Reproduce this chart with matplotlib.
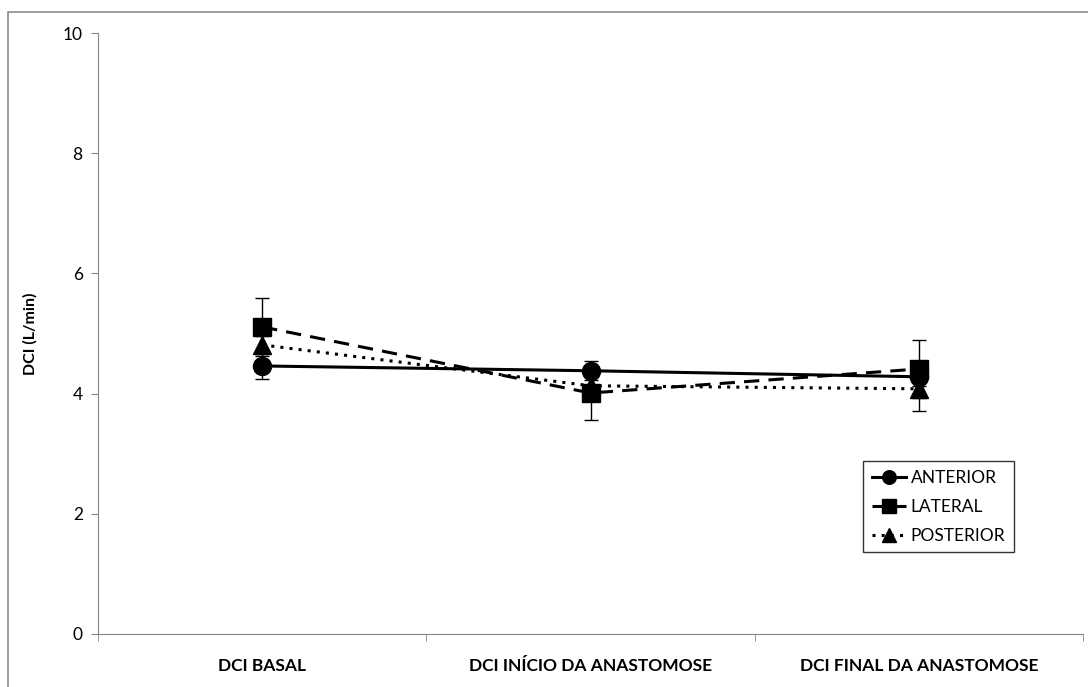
import matplotlib.pyplot as plt
from matplotlib.patches import Rectangle

plt.rcParams["font.family"] = ["Lato", "DejaVu Sans"]

# dados
categorias = ["DCI BASAL", "DCI INÍCIO DA ANASTOMOSE", "DCI FINAL DA ANASTOMOSE"]
anterior = [4.46, 4.38, 4.28]
anterior_dp = [0.22, 0.16, 0.15]
lateral = [5.11, 4.01, 4.41]
lateral_dp = [0.48, 0.45, 0.48]
posterior = [4.81, 4.13, 4.08]
posterior_dp = [0.15, 0.15, 0.37]

fig = plt.figure(figsize=(10.88, 6.87), dpi=100)
ax = fig.add_axes([98 / 1088, 1 - 634 / 687, 985 / 1088, 601 / 687])

# borda externa do gráfico (estilo Excel)
fig.patches.append(Rectangle((8 / 1088, -0.01), 1.0, 1 - 12 / 687 + 0.01,
                             transform=fig.transFigure, fill=False,
                             edgecolor="#8c8c8c", linewidth=1.2))

x = [0.5, 1.5, 2.5]
series = [
    (anterior, anterior_dp, "ANTERIOR", "o", "-", 13),
    (lateral, lateral_dp, "LATERAL", "s", (0, (5, 3)), 12.5),
    (posterior, posterior_dp, "POSTERIOR", "^", (0, (1, 2)), 13),
]
for vals, dp, nome, mk, ls, ms in series:
    ax.errorbar(x, vals, yerr=dp, fmt="none", ecolor="black", elinewidth=1,
                capsize=5, capthick=1, zorder=2)
    ax.plot(x, vals, color="black", linestyle=ls, linewidth=2.2, marker=mk,
            markersize=ms, label=nome, zorder=3)

ax.set_xlim(0, 3)
ax.set_ylim(0, 10)
ax.set_yticks([0, 2, 4, 6, 8, 10])
ax.set_xticks([0.5, 1.5, 2.5])
ax.set_xticklabels(categorias, fontsize=12.5, fontweight="bold")
ax.set_xticks([0, 1, 2, 3], minor=True)
ax.tick_params(axis="x", which="major", length=0, pad=17)
ax.tick_params(axis="x", which="minor", length=5, color="#868686", direction="out")
ax.tick_params(axis="y", length=5, color="#868686", labelsize=12.5, pad=6)
ax.set_ylabel("DCI (L/min)", fontsize=11.5, fontweight="bold", labelpad=18)

for s in ["top", "right"]:
    ax.spines[s].set_visible(False)
for s in ["left", "bottom"]:
    ax.spines[s].set_color("#868686")

leg = ax.legend(loc="upper left", bbox_to_anchor=((863 - 98) / 985, (634 - 461) / 601),
                frameon=True, fancybox=False, edgecolor="black", fontsize=12.5,
                handlelength=2.0, handletextpad=0.25, borderaxespad=0,
                labelspacing=0.75, borderpad=0.5, markerscale=0.75)
leg.get_frame().set_linewidth(1)

plt.savefig("out.png", dpi=100)
